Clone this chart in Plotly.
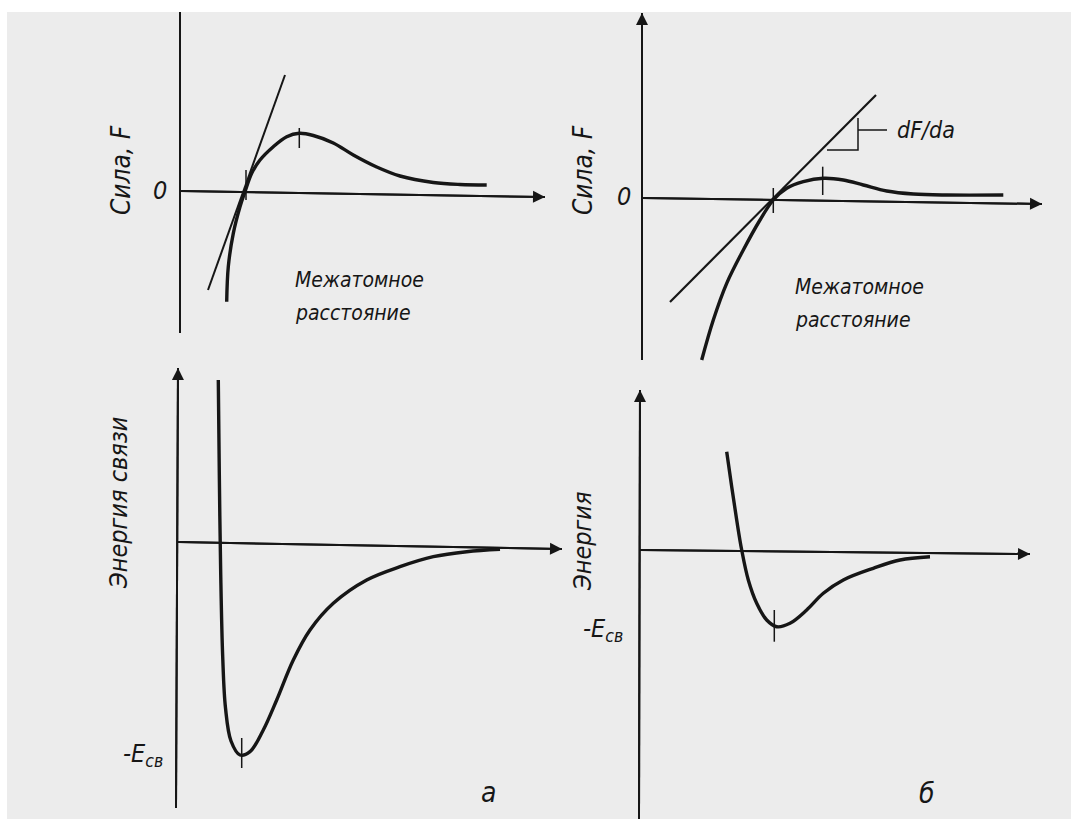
import plotly.graph_objects as go

W, H = 1071, 819
U = 10.0  # pixels per data unit (same for every panel)

# ---------------- data (panel units, origin = axis intersection) ----------------
# Panel "а", top: force vs interatomic distance
a_top_dist = [4.67, 4.83, 5.33, 6.0, 6.5, 7.17, 8.0, 9.33, 10.67, 11.93, 13.33, 15.33, 17.33, 19.67, 22.0, 25.33, 28.0, 30.67]
a_top_force = [-11.07, -7.57, -4.23, -1.57, -0.07, 1.77, 3.1, 4.43, 5.43, 5.77, 5.55, 4.8, 3.6, 2.4, 1.5, 0.85, 0.65, 0.6]
a_top_tangent_x = [2.8, 10.5]
a_top_tangent_y = [-9.9, 11.6]
a_top_ticks_x = [6.6, 6.6, None, 11.93, 11.93]
a_top_ticks_y = [2.1, -0.9, None, 6.3, 4.3]

# Panel "б", top
b_top_dist = [5.97, 7.13, 8.47, 10.13, 11.8, 13.13, 14.47, 16.13, 18.13, 20.13, 22.13, 24.47, 27.13, 30.47, 36.13]
b_top_force = [-16.2, -12.2, -8.53, -5.2, -2.2, -0.2, 0.97, 1.63, 1.97, 1.8, 1.3, 0.7, 0.4, 0.3, 0.3]
b_top_tangent_x = [2.8, 23.4]
b_top_tangent_y = [-10.4, 10.3]
b_top_triangle_x = [21.6, 21.6, 18.5, None, 21.6, 24.5]
b_top_triangle_y = [8.0, 4.8, 4.8, None, 6.8, 6.8]
b_top_ticks_x = [13.13, 13.13, None, 18.07, 18.07]
b_top_ticks_y = [1.0, -1.5, None, 3.13, 0.3]

# Panel "а", bottom: bond energy
a_bot_dist = [4.03, 4.13, 4.27, 4.47, 4.75, 5.3, 6.2, 7.2, 8.53, 9.87, 11.53, 13.2, 15.53, 18.87, 22.2, 25.53, 28.87, 32.2]
a_bot_energy = [16.2, 6.87, -3.13, -11.47, -16.6, -19.9, -21.3, -20.97, -18.8, -15.8, -11.8, -8.8, -6.13, -3.8, -2.47, -1.47, -0.97, -0.73]
a_bot_ticks_x = [6.37, 6.37]
a_bot_ticks_y = [-19.6, -22.6]

# Panel "б", bottom
b_bot_dist = [8.67, 9.17, 9.67, 10.17, 10.83, 11.67, 12.67, 13.67, 15.0, 16.67, 18.33, 20.33, 23.33, 26.0, 29.0]
b_bot_energy = [9.83, 6.33, 3.0, 0.0, -3.0, -5.33, -7.0, -7.67, -7.33, -6.0, -4.33, -3.0, -1.83, -1.0, -0.67]
b_bot_ticks_x = [13.43, 13.43]
b_bot_ticks_y = [-6.0, -9.17]

# axis lines: (tail_x, tail_y, tip_x, tip_y, arrowhead?)
axes_lines = {
    1: [(0, 0, 36.5, -0.6, True), (0, -14.2, 0, 19.1, False)],
    2: [(0, 0, 40.0, -0.6, True), (0, -16.2, 0, 18.5, True)],
    3: [(0, 0, 38.4, -0.7, True), (-0.2, -26.6, 0, 17.4, True)],
    4: [(0, 0, 39.0, -0.4, True), (-0.1, -26.9, 0, 16.0, True)],
}

# ---------------- layout helpers ----------------
ORIGIN = {1: (180, 191), 2: (642, 198), 3: (178, 542), 4: (640, 550)}

INK = "#161616"
FONT = "DejaVu Sans Condensed, Liberation Sans Narrow, DejaVu Sans, sans-serif"

fig = go.Figure()


def ax(n):
    return ("x" if n == 1 else f"x{n}"), ("y" if n == 1 else f"y{n}")


def line(n, xs, ys, width, smooth=False):
    xa, ya = ax(n)
    fig.add_trace(go.Scatter(
        x=xs, y=ys, xaxis=xa, yaxis=ya, mode="lines",
        line=dict(color=INK, width=width, shape="spline" if smooth else "linear",
                  smoothing=1.0 if smooth else None),
        hoverinfo="skip", showlegend=False, connectgaps=False))


line(1, a_top_dist, a_top_force, 3.4, True)
line(1, a_top_tangent_x, a_top_tangent_y, 2.0)
line(1, a_top_ticks_x, a_top_ticks_y, 1.5)

line(2, b_top_dist, b_top_force, 3.4, True)
line(2, b_top_tangent_x, b_top_tangent_y, 2.2)
line(2, b_top_triangle_x, b_top_triangle_y, 1.5)
line(2, b_top_ticks_x, b_top_ticks_y, 1.5)

line(3, a_bot_dist, a_bot_energy, 3.4, True)
line(3, a_bot_ticks_x, a_bot_ticks_y, 1.5)

line(4, b_bot_dist, b_bot_energy, 3.4, True)
line(4, b_bot_ticks_x, b_bot_ticks_y, 1.5)

annotations = []

# axes: line traces, arrowheads as annotation arrows
for n, segs in axes_lines.items():
    xa, ya = ax(n)
    for (tx, ty, hx, hy, head) in segs:
        fig.add_trace(go.Scatter(
            x=[tx, hx], y=[ty, hy], xaxis=xa, yaxis=ya, mode="lines",
            line=dict(color=INK, width=2), hoverinfo="skip", showlegend=False))
        if head:
            annotations.append(dict(
                x=hx, y=hy, ax=tx, ay=ty, xref=xa, yref=ya, axref=xa, ayref=ya,
                text="", showarrow=True, arrowhead=2, arrowsize=1.2,
                arrowwidth=2, arrowcolor=INK, standoff=0, startstandoff=0))


def label(n, x, y, text, size=26, angle=0, xanchor="center"):
    xa, ya = ax(n)
    annotations.append(dict(
        x=x, y=y, xref=xa, yref=ya, text=f"<i>{text}</i>", showarrow=False,
        textangle=angle, xanchor=xanchor, yanchor="middle",
        font=dict(family=FONT, size=size, color=INK)))


label(1, -5.9, 2.1, "Сила, F", 26, -90)
label(1, -2.0, 0.1, "0", 25)
label(1, 11.3, -8.9, "Межатомное", 21, xanchor="left")
label(1, 11.3, -12.2, "расстояние", 21, xanchor="left")

label(2, -5.9, 2.8, "Сила, F", 26, -90)
label(2, -1.8, 0.2, "0", 25)
label(2, 25.3, 6.8, "dF/da", 23, xanchor="left")
label(2, 15.1, -8.9, "Межатомное", 21, xanchor="left")
label(2, 15.1, -12.2, "расстояние", 21, xanchor="left")

label(3, -6.0, 3.9, "Энергия связи", 25, -90)
label(3, -1.3, -21.3, "-E<sub>св</sub>", 25, xanchor="right")
label(3, 31.0, -25.0, "а", 28)

label(4, -5.8, 0.9, "Энергия", 25, -90)
label(4, -1.5, -8.0, "-E<sub>св</sub>", 25, xanchor="right")
label(4, 28.7, -24.3, "б", 28)

layout = dict(
    width=W, height=H, margin=dict(l=0, r=0, t=0, b=0),
    paper_bgcolor="#ececec", plot_bgcolor="rgba(0,0,0,0)",
    showlegend=False, annotations=annotations,
    shapes=[
        dict(type="rect", xref="paper", yref="paper", x0=0, x1=1, y0=1 - 12 / H, y1=1,
             fillcolor="white", line=dict(width=0), layer="above"),
        dict(type="rect", xref="paper", yref="paper", x0=0, x1=7 / W, y0=0, y1=1,
             fillcolor="white", line=dict(width=0), layer="above"),
    ],
)
for n, (ox, oy) in ORIGIN.items():
    xa, ya = ax(n)
    xk = "xaxis" if n == 1 else f"xaxis{n}"
    yk = "yaxis" if n == 1 else f"yaxis{n}"
    xr = [-ox / U, (W - ox) / U]
    yr = [(oy - H) / U, oy / U]
    xd = dict(range=xr, domain=[0, 1], visible=False, fixedrange=True, anchor=ya)
    yd = dict(range=yr, domain=[0, 1], visible=False, fixedrange=True, anchor=xa)
    if n != 1:
        xd["overlaying"] = "x"
        yd["overlaying"] = "y"
    layout[xk] = xd
    layout[yk] = yd

fig.update_layout(**layout)
fig.write_html("out.html", config={"displayModeBar": False},
               post_script="document.body.style.margin='0';document.body.style.background='white';")
